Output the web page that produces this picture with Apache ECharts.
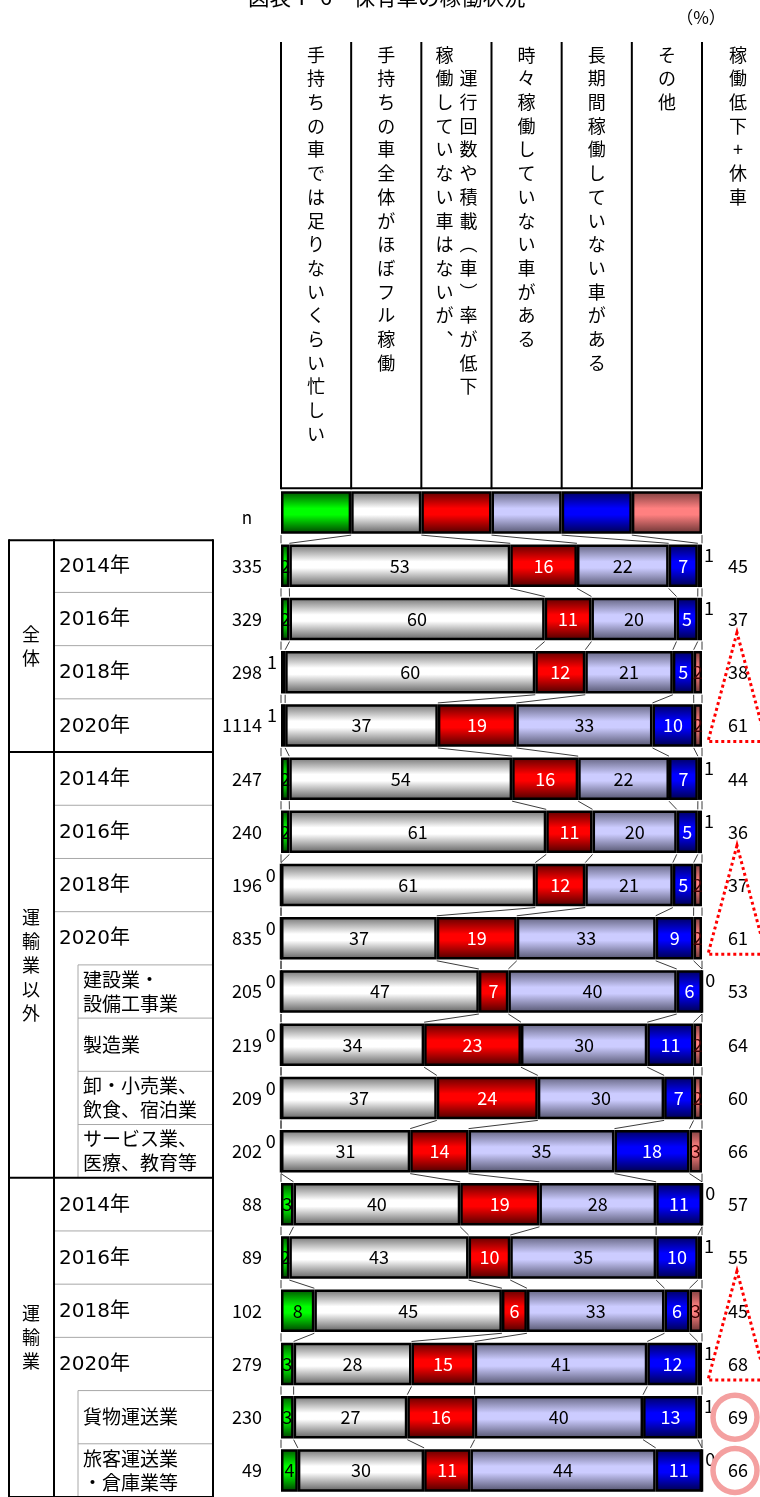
<!DOCTYPE html>
<html>
<head>
<meta charset="utf-8">
<script src="https://cdn.jsdelivr.net/npm/echarts@6/dist/echarts.min.js"></script>
<style>
html,body{margin:0;padding:0;background:#fff;}
#chart{width:760px;height:1497px;}
</style>
</head>
<body>
<div id="chart"></div>
<script>
// ---- data -------------------------------------------------------------
const seriesNames = [
  '手持ちの車では足りないくらい忙しい',
  '手持ちの車全体がほぼフル稼働',
  '稼働していない車はないが、運行回数や積載（車）率が低下',
  '時々稼働していない車がある',
  '長期間稼働していない車がある',
  'その他'
];
const rowLabels = [
  '2014年', '2016年', '2018年', '2020年',
  '2014年', '2016年', '2018年', '2020年',
  '建設業・\n設備工事業', '製造業', '卸・小売業、\n飲食、宿泊業', 'サービス業、\n医療、教育等',
  '2014年', '2016年', '2018年', '2020年',
  '貨物運送業', '旅客運送業\n・倉庫業等'
];
const sampleSizes   = [335, 329, 298, 1114, 247, 240, 196, 835, 205, 219, 209, 202, 88, 89, 102, 279, 230, 49];
const busy          = [2, 2, 1, 1, 2, 2, 0, 0, 0, 0, 0, 0, 3, 2, 8, 3, 3, 4];
const fullUse       = [53, 60, 60, 37, 54, 61, 61, 37, 47, 34, 37, 31, 40, 43, 45, 28, 27, 30];
const lowerRate     = [16, 11, 12, 19, 16, 11, 12, 19, 7, 23, 24, 14, 19, 10, 6, 15, 16, 11];
const sometimesIdle = [22, 20, 21, 33, 22, 20, 21, 33, 40, 30, 30, 35, 28, 35, 33, 41, 40, 44];
const longIdle      = [7, 5, 5, 10, 7, 5, 5, 9, 6, 11, 7, 18, 11, 10, 6, 12, 13, 11];
const other         = [1, 1, 2, 2, 1, 1, 2, 2, 0, 2, 2, 3, 0, 1, 3, 1, 1, 0];
const lowPlusIdle   = [45, 37, 38, 61, 44, 36, 37, 61, 53, 64, 60, 66, 57, 55, 45, 68, 69, 66];

// key row: one equal-width swatch per answer
const keySwatches = [1, 1, 1, 1, 1, 1];

// vertical column headings (each string is one vertical line of text)
const headerColumns = [
  ['手持ちの車では足りないくらい忙しい'],
  ['手持ちの車全体がほぼフル稼働'],
  ['稼働していない車はないが︑', '　運行回数や積載︵車︶率が低下'],
  ['時々稼働していない車がある'],
  ['長期間稼働していない車がある'],
  ['その他']
];
const sumHeader = '稼働低下+休車';

const groups = [
  { name: '全体', first: 0, last: 3 },
  { name: '運輸業以外', first: 4, last: 11, breakdownFrom: 8 },
  { name: '運輸業', first: 12, last: 17, breakdownFrom: 16 }
];
const trendMarks = [[1, 3], [5, 7], [13, 15]];   // dotted triangles: 2016 -> 2020
const ringMarks = [16, 17];                       // circled totals

// ---- styling ----------------------------------------------------------
const FONT = "'Noto Sans CJK JP', 'Noto Sans', sans-serif";
const YEAR_FONT = "'DejaVu Sans', 'Noto Sans CJK JP', sans-serif";
const BAR_PX = 42.5;
const BORDER = 2.5;
const palette = [
  ['#005200', '#00ff00', '#003c00'],
  ['#737373', '#ffffff', '#5e5e5e'],
  ['#5e0000', '#ff0000', '#4a0000'],
  ['#62627f', '#ccccff', '#52526c'],
  ['#00005e', '#0000ff', '#00004a'],
  ['#7c3e3e', '#ff8080', '#663232']
];
const labelColors = ['#000', '#000', '#fff', '#000', '#fff', '#3a0000'];

function shade(k) {
  const [top, mid, bottom] = palette[k];
  return new echarts.graphic.LinearGradient(0, 0, 0, 1, [
    { offset: 0, color: top },
    { offset: 0.4, color: mid },
    { offset: 0.55, color: mid },
    { offset: 1, color: bottom }
  ]);
}

// ---- derived tables ---------------------------------------------------
const valueSets = [busy, fullUse, lowerRate, sometimesIdle, longIdle, other];
const rows = [keySwatches].concat(sampleSizes.map((_, r) => valueSets.map(s => s[r])));
const shares = rows.map(vals => {
  const total = vals.reduce((a, b) => a + b, 0);
  return vals.map(v => v / total * 100);
});
const cumulative = shares.map(s => s.reduce((acc, v) => { acc.push(acc[acc.length - 1] + v); return acc; }, [0]));
const categoryIds = rows.map((_, c) => 'c' + c);

// ---- chart ------------------------------------------------------------
const chart = echarts.init(document.getElementById('chart'));

const barSeries = seriesNames.map((name, k) => ({
  name,
  type: 'bar',
  stack: 'share',
  barWidth: BAR_PX,
  z: 3,
  silent: true,
  itemStyle: { color: shade(k), borderColor: '#000', borderWidth: BORDER },
  label: {
    show: true,
    position: 'inside',
    color: labelColors[k],
    fontSize: 18,
    fontFamily: FONT,
    formatter: p => String(p.data.raw)
  },
  data: rows.map((vals, c) => {
    const item = { value: shares[c][k], raw: vals[k] };
    if (c === 0) {
      item.label = { show: false };
    } else if (vals[k] <= 1 && k === 0) {
      item.label = { position: 'left', distance: 4, offset: [0, -10], color: '#000' };
    } else if (vals[k] <= 1 && k === seriesNames.length - 1) {
      item.label = { position: 'right', distance: 2, offset: [0, -11], color: '#000' };
    }
    return item;
  })
}));

// thin connector lines between the segment edges of consecutive rows
const connectorSeries = {
  type: 'custom',
  silent: true,
  clip: false,
  z: 1,
  encode: { x: 0, y: 1 },
  data: rows.slice(0, -1).map((_, c) => [0, c]),
  renderItem(params, api) {
    const c = api.value(1);
    const half = BAR_PX / 2 + BORDER / 2;
    const upper = cumulative[c], lower = cumulative[c + 1];
    return {
      type: 'group',
      children: upper.map((x, k) => {
        const p1 = api.coord([x, c]);
        const p2 = api.coord([lower[k], c + 1]);
        return {
          type: 'line',
          shape: { x1: p1[0], y1: p1[1] + half, x2: p2[0], y2: p2[1] - half },
          style: { stroke: '#3c3c3c', lineWidth: 1 }
        };
      })
    };
  }
};

const option = {
  animation: false,
  backgroundColor: '#fff',
  grid: { left: 281, width: 421, top: 486, height: 19 * 53.55 },
  xAxis: { type: 'value', min: 0, max: 100, show: false },
  yAxis: [
    {
      type: 'category', inverse: true, data: categoryIds, position: 'left',
      axisLine: { show: false }, axisTick: { show: false }, splitLine: { show: false },
      axisLabel: {
        margin: 19, fontSize: 18, fontFamily: FONT, color: '#000',
        formatter: (v, i) => (i === 0 ? '' : String(sampleSizes[i - 1]))
      }
    },
    {
      type: 'category', inverse: true, data: categoryIds, position: 'right',
      axisLine: { show: false }, axisTick: { show: false }, splitLine: { show: false },
      axisLabel: {
        margin: 36, align: 'center', fontSize: 18, fontFamily: FONT, color: '#000',
        formatter: (v, i) => (i === 0 ? '' : String(lowPlusIdle[i - 1]))
      }
    }
  ],
  series: barSeries.concat([connectorSeries])
};
chart.setOption(option);

// ---- table frame, headings and annotations -----------------------------
function buildOverlay() {
  const px = v => chart.convertToPixel({ xAxisIndex: 0 }, v);
  const py = c => chart.convertToPixel({ yAxisIndex: 0 }, c);
  const pitch = py(1) - py(0);
  const rowY = r => py(r + 1);
  const edge = r => rowY(r) + pitch / 2;          // lower edge of a data row
  const g = [];
  const line = (x1, y1, x2, y2, w, col) => g.push({
    type: 'line', silent: true, z: 10,
    shape: { x1, y1, x2, y2 }, style: { stroke: col, lineWidth: w }
  });
  const text = (x, y, str, style) => g.push({
    type: 'text', silent: true, z: 10, x, y,
    style: Object.assign({ text: str, fill: '#000', fontFamily: FONT, fontSize: 18 }, style)
  });

  // title and unit
  text(248, -3, '図表Ⅰ-6　保有車の稼働状況', { fontSize: 21.5, verticalAlign: 'middle' });
  text(701, 18, '（%）', { fontSize: 17, align: 'center', verticalAlign: 'middle' });

  // heading column rules
  const bounds = cumulative[0].map(px);
  const headTop = 42, headBottom = py(0) - BAR_PX / 2 - 3;
  bounds.forEach(x => line(x, headTop, x, headBottom + 1, 2, '#000'));
  line(bounds[0], headBottom, bounds[bounds.length - 1], headBottom, 2, '#000');

  // vertical headings
  const LH = 23.7;
  headerColumns.forEach((cols, k) => {
    const cx = (bounds[k] + bounds[k + 1]) / 2;
    cols.forEach((str, j) => {
      const dx = cols.length === 1 ? 0 : (j === 0 ? -12 : 12);
      text(cx + dx, 43, Array.from(str).join('\n'), { align: 'center', verticalAlign: 'top', lineHeight: LH });
    });
  });
  const sumX = px(100) + 36;
  text(sumX, 43, Array.from(sumHeader).join('\n'), { align: 'center', verticalAlign: 'top', lineHeight: LH });

  // n heading
  text(247, py(0) + 5, 'n', { fontSize: 17, align: 'center', verticalAlign: 'middle' });

  // left table
  const X0 = 9, X1 = 54, XS = 78, X2 = 213;
  const tableTop = rowY(0) - pitch / 2 + 1;
  const tableBottom = edge(rowLabels.length - 1);
  groups.forEach(gr => {
    const gTop = gr.first === 0 ? tableTop : edge(gr.first - 1);
    const gBottom = edge(gr.last);
    for (let r = gr.first; r < gr.last; r++) {
      const inner = gr.breakdownFrom !== undefined && r + 1 >= gr.breakdownFrom;
      line(inner ? XS : X1, edge(r), X2, edge(r), 1, '#a8a8a8');
    }
    if (gr.breakdownFrom !== undefined) {
      line(XS, edge(gr.breakdownFrom - 1), XS, gBottom, 1, '#a8a8a8');
    }
    text(31, (gTop + gBottom) / 2, Array.from(gr.name).join('\n'),
      { align: 'center', verticalAlign: 'middle', lineHeight: 24 });
    for (let r = gr.first; r <= gr.last; r++) {
      const sub = gr.breakdownFrom !== undefined && r >= gr.breakdownFrom;
      if (sub) {
        text(83, rowY(r), rowLabels[r], { fontSize: 19, verticalAlign: 'middle', lineHeight: 24 });
      } else {
        text(59, rowY(r) + 1, rowLabels[r], { fontSize: 20, fontFamily: YEAR_FONT, verticalAlign: 'middle' });
      }
    }
    line(X0, gBottom, X2, gBottom, 2, '#000');
  });
  line(X0, tableTop, X2, tableTop, 2, '#000');
  [X0, X1, X2].forEach(x => line(x, tableTop - 1, x, tableBottom + 1, 2, '#000'));

  // dotted triangles over the 2016 -> 2020 totals
  trendMarks.forEach(([a, b]) => {
    const apexY = rowY(a) + 13.5, baseY = rowY(b) + 16;
    g.push({
      type: 'polygon', silent: true, z: 11,
      shape: { points: [[sumX - 1, apexY], [sumX - 30, baseY], [sumX + 28, baseY]] },
      style: { fill: null, stroke: '#ff0000', lineWidth: 3, lineDash: [3, 3] }
    });
  });
  // rings around the highlighted totals
  ringMarks.forEach(r => {
    g.push({
      type: 'circle', silent: true, z: 11,
      shape: { cx: sumX - 3, cy: rowY(r), r: 22 },
      style: { fill: null, stroke: '#f4a0a0', lineWidth: 5.5 }
    });
  });
  return g;
}
chart.setOption({ graphic: buildOverlay() });
</script>
</body>
</html>
